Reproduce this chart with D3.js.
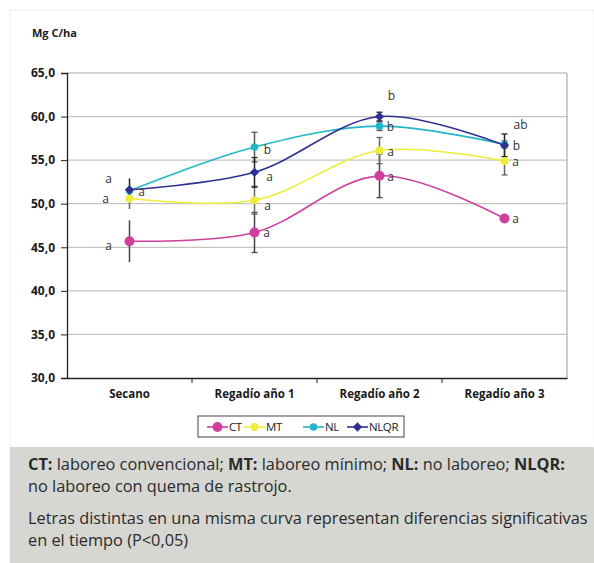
<!DOCTYPE html>
<html>
<head>
<meta charset="utf-8">
<script src="https://cdn.jsdelivr.net/npm/d3@7"></script>
<style>
  body { margin: 0; background: #fff; }
  text { font-family: "Open Sans", "Noto Sans", sans-serif; }
</style>
</head>
<body>
<div class="chart"></div>
<script>
// categories and values (Mg C/ha)
var categories = ["Secano", "Regadío año 1", "Regadío año 2", "Regadío año 3"];
var yTicks = [30, 35, 40, 45, 50, 55, 60, 65];

var ct   = [45.7, 46.7, 53.2, 48.3];
var mt   = [50.6, 50.4, 56.1, 54.9];
var nl   = [51.5, 56.5, 58.9, 56.8];
var nlqr = [51.6, 53.6, 60.0, 56.7];

var ctErr   = [2.4, 2.3, 2.5, 0.3];
var mtErr   = [1.2, 1.6, 1.5, 1.6];
var nlErr   = [0.6, 1.7, 0.5, 0.4];
var nlqrErr = [1.3, 1.7, 0.5, 1.3];

var ctLetters   = ["a", "a", "a", "a"];
var mtLetters   = ["a", "a", "a", "a"];
var nlLetters   = ["a", "b", "b", "b"];
var nlqrLetters = ["a", "a", "b", "ab"];

var series = [
    { name: "CT",   values: ct,   err: ctErr,   letters: ctLetters,   color: "#cf3f9e", shape: "circle", r: 5,   errColor: "#444" },
    { name: "MT",   values: mt,   err: mtErr,   letters: mtLetters,   color: "#eeee3a", shape: "circle", r: 4,   errColor: "#666" },
    { name: "NL",   values: nl,   err: nlErr,   letters: nlLetters,   color: "#22b6c8", shape: "circle", r: 3.8, errColor: "#555" },
    { name: "NLQR", values: nlqr, err: nlqrErr, letters: nlqrLetters, color: "#2f3191", shape: "diamond", r: 5, errColor: "#222" }
];

// where each letter sits relative to its point
var letterOffset = {
    "CT":   [[-21, 5], [12, 0], [11, 1], [11, 0]],
    "MT":   [[-24, 0], [13, 6], [11, 1], [11, 1]],
    "NL":   [[12, 1], [13, 3], [11, 1], [12, 1]],
    "NLQR": [[-21, -11], [15, 4], [12, -21], [16, -21]]
};

var width = 594, height = 563;
var plot = { left: 67, right: 567, top: 73, bottom: 378 };

var svg = d3.select(".chart").append("svg")
    .attr("width", width)
    .attr("height", height);

// page panel
svg.append("rect")
    .attr("x", 10).attr("y", 10)
    .attr("width", width - 10).attr("height", height - 10)
    .attr("fill", "#fff")
    .attr("stroke", "#f0f0f0");

var x = d3.scaleBand()
    .domain(categories)
    .range([plot.left, plot.right]);

var y = d3.scaleLinear()
    .domain([30, 65])
    .range([plot.bottom, plot.top]);

function cx(i) { return x(categories[i]) + x.bandwidth() / 2; }

// gridlines
svg.append("g")
    .selectAll("line")
    .data(yTicks.slice(1))
    .enter()
    .append("line")
    .attr("x1", plot.left).attr("x2", plot.right)
    .attr("y1", function (d) { return y(d); })
    .attr("y2", function (d) { return y(d); })
    .attr("stroke", "#c4c4c4")
    .attr("stroke-width", 1.3);

// right border of plot area
svg.append("line")
    .attr("x1", plot.right).attr("x2", plot.right)
    .attr("y1", plot.top).attr("y2", plot.bottom)
    .attr("stroke", "#b0b0b0")
    .attr("stroke-width", 1.3);

// y axis
var yAxis = svg.append("g")
    .attr("transform", "translate(" + plot.left + ",0)")
    .call(d3.axisLeft(y)
        .tickValues(yTicks)
        .tickSize(6)
        .tickFormat(function (d) { return d3.format(".1f")(d).replace(".", ","); }));
yAxis.select(".domain").attr("stroke", "#222").attr("stroke-width", 1.3);
yAxis.selectAll(".tick line").attr("stroke", "#222");
yAxis.selectAll(".tick text")
    .attr("x", -12)
    .attr("fill", "#1a1a1a")
    .style("font-size", "12px")
    .style("font-weight", "bold")
    .style("font-family", "'Open Sans', sans-serif");

// x axis
var xAxis = svg.append("g")
    .attr("transform", "translate(0," + plot.bottom + ")")
    .call(d3.axisBottom(x).tickSize(0).tickSizeOuter(0));
xAxis.select(".domain").attr("stroke", "#222").attr("stroke-width", 1.3);
xAxis.selectAll(".tick text")
    .attr("y", 12)
    .attr("fill", "#1a1a1a")
    .style("font-size", "11.5px")
    .style("font-weight", "bold")
    .style("font-family", "'Open Sans', sans-serif");

// category boundary ticks
svg.append("g")
    .selectAll("line")
    .data(categories.slice(1))
    .enter()
    .append("line")
    .attr("x1", function (d) { return x(d); })
    .attr("x2", function (d) { return x(d); })
    .attr("y1", plot.bottom).attr("y2", plot.bottom + 5)
    .attr("stroke", "#222");

svg.append("text")
    .attr("x", 32).attr("y", 37)
    .attr("fill", "#1a1a1a")
    .style("font-size", "11px")
    .style("font-weight", "bold")
    .text("Mg C/ha");

// error bars (no caps on the first category, as in the source)
series.forEach(function (s) {
    var g = svg.append("g");
    var bars = g.selectAll("g")
        .data(s.values)
        .enter()
        .append("g");
    bars.append("line")
        .attr("x1", function (d, i) { return cx(i); })
        .attr("x2", function (d, i) { return cx(i); })
        .attr("y1", function (d, i) { return y(d + s.err[i]); })
        .attr("y2", function (d, i) { return y(d - s.err[i]); })
        .attr("stroke", s.errColor)
        .attr("stroke-width", 1.5);
    [1, -1].forEach(function (sign) {
        bars.filter(function (d, i) { return i > 0; })
            .append("line")
            .attr("x1", function (d) { return cx(s.values.indexOf(d)) - 3; })
            .attr("x2", function (d) { return cx(s.values.indexOf(d)) + 3; })
            .attr("y1", function (d) { return y(d + sign * s.err[s.values.indexOf(d)]); })
            .attr("y2", function (d) { return y(d + sign * s.err[s.values.indexOf(d)]); })
            .attr("stroke", s.errColor)
            .attr("stroke-width", 1.3);
    });
});

// lines
var line = d3.line()
    .x(function (d, i) { return cx(i); })
    .y(function (d) { return y(d); })
    .curve(d3.curveCatmullRom.alpha(0.5));

series.forEach(function (s) {
    svg.append("path")
        .datum(s.values)
        .attr("d", line)
        .attr("fill", "none")
        .attr("stroke", s.color)
        .attr("stroke-width", 1.6);
});

function marker(sel, s) {
    if (s.shape === "diamond") {
        sel.append("path")
            .attr("d", d3.symbol().type(d3.symbolDiamond2).size(s.r * s.r * 2.2))
            .attr("fill", s.color);
    } else {
        sel.append("circle")
            .attr("r", s.r)
            .attr("fill", s.color);
    }
}

// markers
series.forEach(function (s) {
    var pts = svg.append("g")
        .selectAll("g")
        .data(s.values)
        .enter()
        .append("g")
        .attr("transform", function (d, i) { return "translate(" + cx(i) + "," + y(d) + ")"; });
    marker(pts, s);
});

// significance letters
series.forEach(function (s) {
    svg.append("g")
        .selectAll("text")
        .data(s.letters)
        .enter()
        .append("text")
        .attr("x", function (d, i) { return cx(i) + letterOffset[s.name][i][0]; })
        .attr("y", function (d, i) { return y(s.values[i]) + letterOffset[s.name][i][1]; })
        .attr("dy", "0.35em")
        .attr("text-anchor", "middle")
        .attr("fill", "#333")
        .style("font-size", "12px")
        .text(function (d) { return d; });
});

// legend
var legend = svg.append("g");
legend.append("rect")
    .attr("x", 198).attr("y", 416)
    .attr("width", 206).attr("height", 21)
    .attr("fill", "#fff")
    .attr("stroke", "#444")
    .attr("stroke-width", 1);

var legendX = [207, 244, 303, 347];
series.forEach(function (s, i) {
    var item = legend.append("g")
        .attr("transform", "translate(" + legendX[i] + ",427)");
    item.append("line")
        .attr("x1", 0).attr("x2", 21)
        .attr("stroke", s.color)
        .attr("stroke-width", 1.6);
    var m = item.append("g").attr("transform", "translate(10.5,0)");
    marker(m, s);
    item.append("text")
        .attr("x", 22).attr("dy", "0.36em")
        .attr("fill", "#222")
        .style("font-size", "11.5px")
        .style("letter-spacing", "-0.4px")
        .text(s.name);
});

// caption box
svg.append("rect")
    .attr("x", 10).attr("y", 447)
    .attr("width", width - 10).attr("height", height - 447)
    .attr("fill", "#d6d6d2");

var captionLines = [
    [["CT:", true], [" laboreo convencional; ", false], ["MT:", true], [" laboreo mínimo; ", false], ["NL:", true], [" no laboreo; ", false], ["NLQR:", true]],
    [["no laboreo con quema de rastrojo.", false]],
    [["Letras distintas en una misma curva representan diferencias significativas", false]],
    [["en el tiempo (P<0,05)", false]]
];
var captionY = [470, 492, 524, 546];

var caption = svg.append("g");
captionLines.forEach(function (parts, li) {
    var t = caption.append("text")
        .attr("class", "cap")
        .attr("x", 28).attr("y", captionY[li])
        .attr("fill", "#2b2b2b")
        .style("font-size", "15px");
    parts.forEach(function (p) {
        t.append("tspan")
            .style("font-weight", p[1] ? "bold" : "normal")
            .text(p[0]);
    });
});
// fit the long line to the box width
var longest = caption.selectAll("text.cap").nodes()[2];
var fs = 15 * 560 / longest.getComputedTextLength();
caption.selectAll("text.cap").style("font-size", fs + "px");
</script>
</body>
</html>
